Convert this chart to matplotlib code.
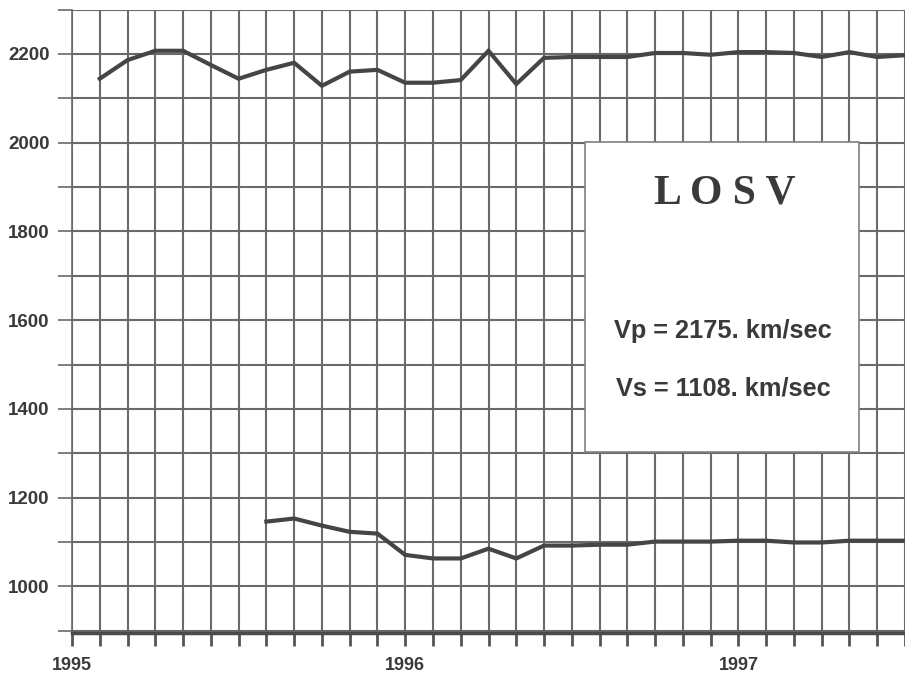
import matplotlib
matplotlib.use("Agg")
import matplotlib.pyplot as plt
from matplotlib.patches import Rectangle
import numpy as np

# ---- data (month index along x, velocity in km/sec) ----
vp_months = list(range(1, 31))
vp_values = [2144, 2186, 2207, 2207, 2175, 2144, 2164, 2180, 2128, 2160,
             2164, 2135, 2135, 2141, 2207, 2132, 2191, 2193, 2193, 2193,
             2202, 2202, 2198, 2204, 2204, 2202, 2193, 2204, 2193, 2197]
vs_months = list(range(7, 31))
vs_values = [1146, 1153, 1137, 1123, 1119, 1071, 1063, 1063, 1085, 1063,
             1092, 1092, 1094, 1094, 1101, 1101, 1101, 1103, 1103, 1099,
             1099, 1103, 1103, 1103]
year_ticks = [0, 12, 24]
year_labels = ["1995", "1996", "1997"]
ytick_values = [1000, 1200, 1400, 1600, 1800, 2000, 2200]
title_text = "L O S V"
vp_text = "Vp = 2175. km/sec"
vs_text = "Vs = 1108. km/sec"

W, H = 905, 675
fig = plt.figure(figsize=(W / 100, H / 100), dpi=100)
ax = fig.add_axes([72 / W, 1 - 633 / H, (905 - 72) / W, (633 - 9.5) / H])

grid_c = "#6a6a6a"
line_c = "#454545"
text_c = "#3a3a3a"

ax.set_xlim(0, 30)
ax.set_ylim(895, 2300)

# grid
ax.set_xticks(np.arange(0, 31, 1))
ax.set_yticks(np.arange(900, 2301, 100))
ax.grid(True, color=grid_c, lw=1.5, zorder=1)
ax.set_axisbelow(True)

xt_labels = ["" for _ in range(31)]
for t, l in zip(year_ticks, year_labels):
    xt_labels[t] = l
ax.set_xticklabels(xt_labels)
yt_labels = [str(v) if v in ytick_values else "" for v in np.arange(900, 2301, 100)]
ax.set_yticklabels(yt_labels)

ax.tick_params(axis="x", which="major", bottom=True, direction="out", length=9,
               width=2.0, color="#555555", pad=8, labelsize=13, labelcolor=text_c)
ax.tick_params(axis="y", direction="out", length=10, width=1.2, color=grid_c,
               pad=6, labelsize=13.5, labelcolor=text_c)
for lab in ax.get_xticklabels() + ax.get_yticklabels():
    lab.set_fontfamily("Liberation Sans")
    lab.set_fontweight("bold")

for s in ["top", "right"]:
    ax.spines[s].set_visible(False)
ax.spines["left"].set_color(grid_c)
ax.spines["left"].set_linewidth(1.2)
ax.spines["bottom"].set_color("#4a4a4a")
ax.spines["bottom"].set_linewidth(2.5)

# data lines
ax.plot(vp_months, vp_values, color=line_c, lw=3.0, solid_joinstyle="miter", zorder=3)
ax.plot(vs_months, vs_values, color=line_c, lw=3.0, solid_joinstyle="miter", zorder=3)

# white info box (figure pixel coordinates)
bx0, bx1, by0, by1 = 585, 859, 142, 452
box = Rectangle((bx0 / W, 1 - by1 / H), (bx1 - bx0) / W, (by1 - by0) / H,
                transform=fig.transFigure, facecolor="white",
                edgecolor="#808080", lw=1.2, zorder=5)
fig.patches.append(box)

fig.text(725 / W, 1 - 193 / H, title_text, ha="center", va="center",
         family="Liberation Serif", fontweight="bold", fontsize=30,
         color=text_c, zorder=6)
fig.text(723 / W, 1 - 331 / H, vp_text, ha="center", va="center",
         family="Liberation Sans", fontweight="bold", fontsize=18.3,
         color=text_c, zorder=6)
fig.text(723 / W, 1 - 389 / H, vs_text, ha="center", va="center",
         family="Liberation Sans", fontweight="bold", fontsize=18.3,
         color=text_c, zorder=6)

fig.savefig("out.png", dpi=100, facecolor="white")
